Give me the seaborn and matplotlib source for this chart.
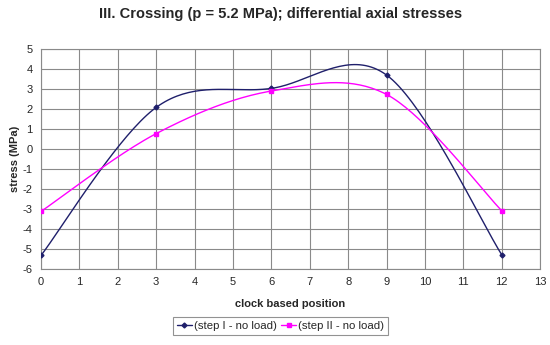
import numpy as np
import pandas as pd
import matplotlib
matplotlib.use("Agg")
import matplotlib.pyplot as plt
from matplotlib.lines import Line2D
import seaborn as sns

# data
positions = [0, 3, 6, 9, 12]
step1_no_load = [-5.32, 2.08, 3.03, 3.70, -5.28]
step2_no_load = [-3.12, 0.77, 2.90, 2.73, -3.08]
series_names = ["(step I - no load)", "(step II - no load)"]
title = "III. Crossing (p = 5.2 MPa); differential axial stresses"


def smooth(xs, ys, n=40):
    # Excel-like smoothed line (Catmull-Rom as cubic bezier)
    p = np.column_stack([xs, ys]).astype(float)
    p = np.vstack([p[0], p, p[-1]])
    out = []
    t = np.linspace(0, 1, n)[:, None]
    for i in range(1, len(p) - 2):
        p0, p3 = p[i], p[i + 1]
        c1 = p0 + (p[i + 1] - p[i - 1]) / 6
        c2 = p3 - (p[i + 2] - p[i]) / 6
        seg = ((1 - t) ** 3) * p0 + 3 * ((1 - t) ** 2) * t * c1 + 3 * (1 - t) * t ** 2 * c2 + t ** 3 * p3
        out.append(seg if i == 1 else seg[1:])
    out = np.vstack(out)
    return out[:, 0], out[:, 1]


sns.set_style("white")
plt.rcParams['font.family'] = ['Liberation Sans', 'DejaVu Sans']
plt.rcParams['axes.unicode_minus'] = False

fig = plt.figure(figsize=(5.5, 3.45), dpi=100)
ax = fig.add_axes([0.0745, 0.22, 0.9075, 0.638])

colors = ["#1f1f6b", "#ff00ff"]
markers = ["D", "s"]
msizes = [2.5, 3.5]
for vals, name, c, m, ms in zip([step1_no_load, step2_no_load], series_names, colors, markers, msizes):
    sx, sy = smooth(positions, vals)
    curve = pd.DataFrame({"x": sx, "y": sy})
    sns.lineplot(data=curve, x="x", y="y", ax=ax, sort=False, estimator=None,
                 color=c, linewidth=1.0)
    pts = pd.DataFrame({"x": positions, "y": vals})
    ax.plot(pts["x"], pts["y"], linestyle="none", marker=m, markersize=ms,
            color=c, zorder=3)

ax.set_xlim(0, 13)
ax.set_ylim(-6, 5)
ax.set_xticks(range(0, 14))
ax.set_yticks(range(-6, 6))
ax.grid(True, color="#8a8a8a", linewidth=0.8)
for s in ax.spines.values():
    s.set_color("#8a8a8a")
    s.set_linewidth(0.8)
ax.tick_params(axis="both", labelsize=8, length=3, color="#8a8a8a", pad=3)
ax.set_xlabel("clock based position", fontsize=8, fontweight="bold", labelpad=8)
ax.set_ylabel("stress (MPa)", fontsize=8, fontweight="bold", labelpad=2)
fig.suptitle(title, fontsize=10.5, fontweight="bold", x=0.51, y=0.98)

handles = [Line2D([0], [0], color=c, marker=m, markersize=ms, linewidth=1.0)
           for c, m, ms in zip(colors, markers, msizes)]
leg = fig.legend(handles, series_names, loc="center", bbox_to_anchor=(0.51, 0.055),
                 ncol=2, fontsize=8.2, frameon=True, fancybox=False,
                 handlelength=1.3, columnspacing=0.4, handletextpad=0.2,
                 borderpad=0.35)
leg.get_frame().set_edgecolor("#777777")
leg.get_frame().set_linewidth(0.8)

fig.savefig("out.png", dpi=100)
